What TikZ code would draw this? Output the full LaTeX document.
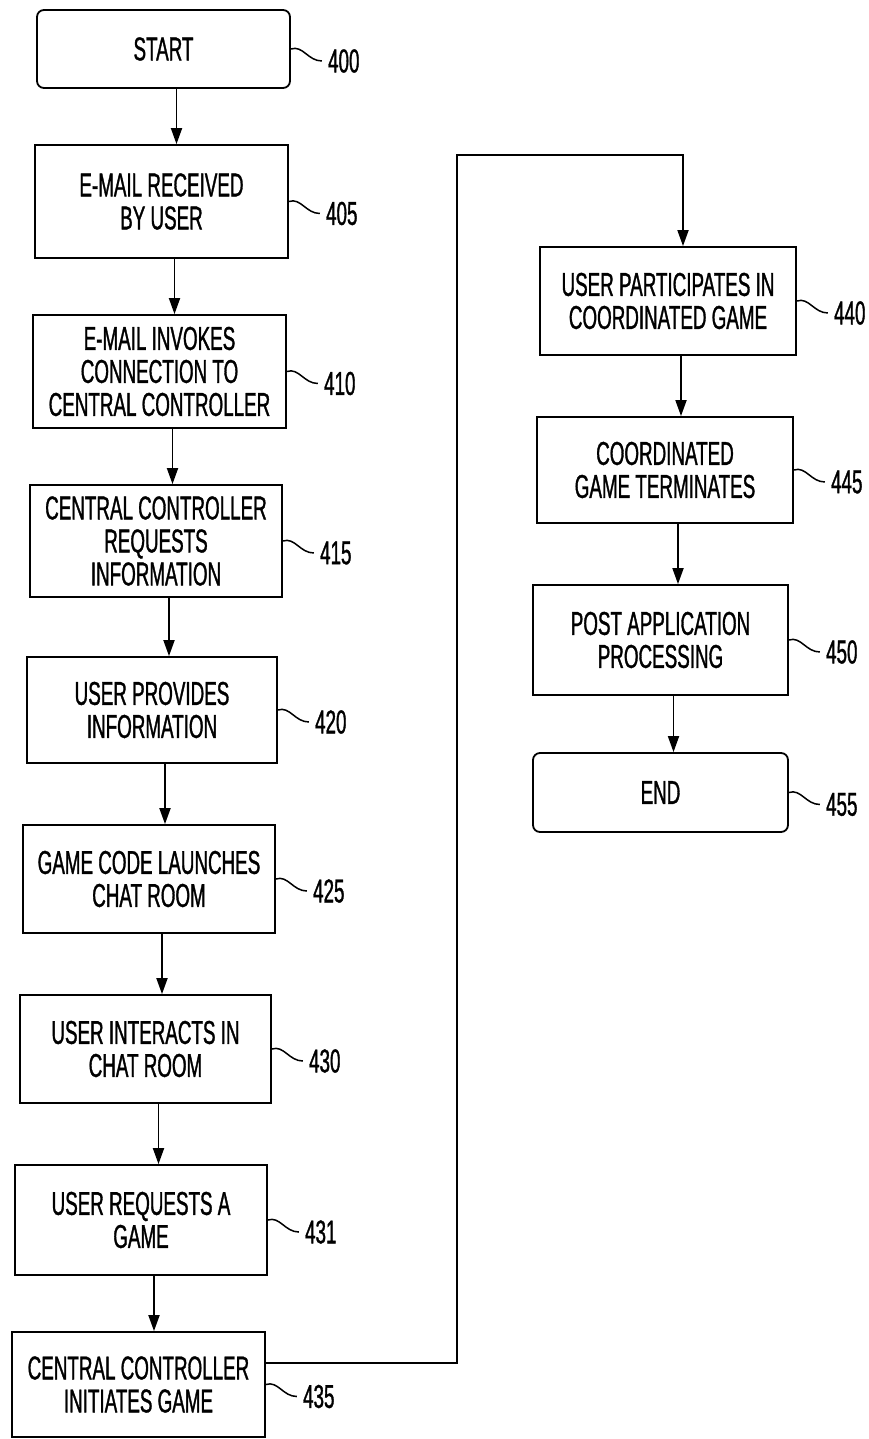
\documentclass[tikz,border=0pt]{standalone}
\usepackage{fontspec}
\setmainfont[FakeStretch=0.57,FakeBold=1]{Liberation Sans}
\usetikzlibrary{arrows.meta,calc}
\tikzset{
  box/.style={draw, line width=1.8pt, minimum width=253pt, inner sep=0pt, align=center,
    font=\fontsize{33}{33}\selectfont},
  term/.style={box, rounded corners=7pt},
  arr/.style={line width=1.8pt, -{Triangle[width=11pt,length=16pt]}},
  squig/.style={line width=1.5pt},
  lab/.style={anchor=west, inner sep=0pt, font=\fontsize{33}{33}\selectfont}
}
\newcommand{\reflab}[2]{%
  \draw[squig] (#1.east) .. controls +(12,-4) and +(-14,0) .. ++(31,12) coordinate (#1q);
  \node[lab] (#1l) at ([xshift=6pt]#1q) {#2};}
\begin{document}
\begin{tikzpicture}[x=1pt,y=-1pt]
\useasboundingbox (0,0) rectangle (868,1439);
\node[term, minimum height=78pt] (n400) at (163.5,49) {START};
\node[box, minimum height=113pt] (n405) at (161.5,201.5) {E-MAIL RECEIVED\\BY USER};
\node[box, minimum height=113pt] (n410) at (159.5,371.5) {E-MAIL INVOKES\\CONNECTION TO\\CENTRAL CONTROLLER};
\node[box, minimum height=112pt, minimum width=252pt] (n415) at (156,541) {CENTRAL CONTROLLER\\REQUESTS\\INFORMATION};
\node[box, minimum height=106pt, minimum width=250pt] (n420) at (152,710) {USER PROVIDES\\INFORMATION};
\node[box, minimum height=108pt, minimum width=252pt] (n425) at (149,879) {GAME CODE LAUNCHES\\CHAT ROOM};
\node[box, minimum height=108pt, minimum width=251pt] (n430) at (145.5,1049) {USER INTERACTS IN\\CHAT ROOM};
\node[box, minimum height=110pt, minimum width=252pt] (n431) at (141,1220) {USER REQUESTS A\\GAME};
\node[box, minimum height=105pt] (n435) at (138.5,1384.5) {CENTRAL CONTROLLER\\INITIATES GAME};
\node[box, minimum height=108pt, minimum width=256pt] (n440) at (668,301) {USER PARTICIPATES IN\\COORDINATED GAME};
\node[box, minimum height=106pt, minimum width=256pt] (n445) at (665,470) {COORDINATED\\GAME TERMINATES};
\node[box, minimum height=110pt, minimum width=255pt] (n450) at (660.5,640) {POST APPLICATION\\PROCESSING};
\node[term, minimum height=79pt, minimum width=255pt] (n455) at (660.5,792.5) {END};

\foreach \a/\b in {n400/n405,n405/n410,n410/n415,n415/n420,n420/n425,n425/n430,n430/n431,n431/n435,n440/n445,n445/n450,n450/n455}{
  \draw[arr] ([xshift=13pt]\a.south) -- ([xshift=13pt]\a.south |- \b.north);
}
\coordinate (c1) at (457,1363);
\coordinate (c2) at (457,155);
\coordinate (c3) at ([xshift=15pt]n440.north |- c2);
\draw[arr] (n435.east |- c1) -- (c1) -- (c2) -- (c3) -- ([xshift=15pt]n440.north);

\reflab{n400}{400}
\reflab{n405}{405}
\reflab{n410}{410}
\reflab{n415}{415}
\reflab{n420}{420}
\reflab{n425}{425}
\reflab{n430}{430}
\reflab{n431}{431}
\reflab{n435}{435}
\reflab{n440}{440}
\reflab{n445}{445}
\reflab{n450}{450}
\reflab{n455}{455}
\end{tikzpicture}
\end{document}
